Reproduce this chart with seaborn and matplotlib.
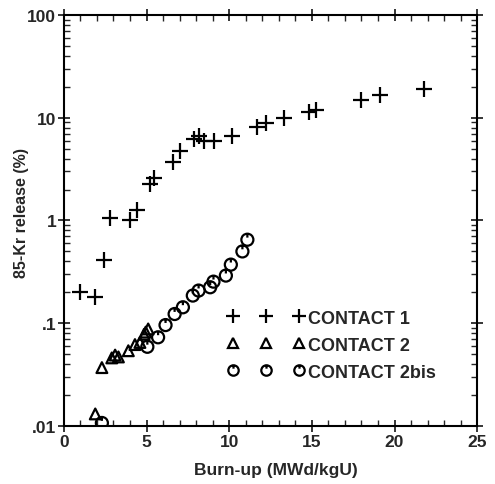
import numpy as np
import pandas as pd
import matplotlib
matplotlib.use("Agg")
import matplotlib.pyplot as plt
from matplotlib.path import Path
from matplotlib.lines import Line2D
from matplotlib.ticker import FixedLocator, FixedFormatter, LogLocator, NullFormatter, MultipleLocator
import seaborn as sns

# ---- data ----
c1_burnup = [1.0, 1.9, 2.4, 2.8, 4.0, 4.4, 5.2, 5.45, 6.6, 7.0, 7.9, 8.2, 8.5, 9.1,
             10.2, 11.7, 12.2, 13.3, 14.8, 15.25, 18.0, 19.1, 21.8]
c1_release = [0.20, 0.18, 0.41, 1.06, 1.02, 1.27, 2.27, 2.6, 3.75, 4.8, 6.2, 6.6, 6.0, 5.9,
              6.7, 8.2, 8.9, 10.0, 11.3, 11.8, 15.0, 16.5, 19.0]

c2_burnup = [1.9, 2.3, 2.9, 3.1, 3.3, 3.9, 4.3, 4.6, 4.85, 4.95, 5.1]
c2_release = [0.0131, 0.037, 0.046, 0.049, 0.047, 0.054, 0.062, 0.065, 0.078, 0.082, 0.088]

c2b_burnup = [2.3, 5.05, 5.7, 6.15, 6.7, 7.2, 7.8, 8.15, 8.85, 9.05, 9.8, 10.1, 10.8, 11.1]
c2b_release = [0.0107, 0.059, 0.073, 0.096, 0.123, 0.143, 0.186, 0.208, 0.224, 0.254,
               0.291, 0.372, 0.50, 0.65]

series_names = ["CONTACT 1", "CONTACT 2", "CONTACT 2bis"]
y_ticks = [0.01, 0.1, 1, 10, 100]
y_ticklabels = [".01", ".1", "1", "10", "100"]
x_ticks = [0, 5, 10, 15, 20, 25]

# ---- style ----
sns.set_style("ticks")
plt.rcParams['font.family'] = ['Liberation Sans', 'DejaVu Sans']
plt.rcParams['font.weight'] = 'bold'

fig = plt.figure(figsize=(4.95, 4.85), dpi=100)
ax = fig.add_axes([0.129, 0.1196, 0.835, 0.8474])

# circle with a tick marker
circ = Path.unit_circle()
tick = Path([(0, 1), (0, 0.35)], [Path.MOVETO, Path.LINETO])
circ_tick = Path.make_compound_path(circ, tick)

df1 = pd.DataFrame({"x": c1_burnup, "y": c1_release})
df2 = pd.DataFrame({"x": c2_burnup, "y": c2_release})
df3 = pd.DataFrame({"x": c2b_burnup, "y": c2b_release})

sns.scatterplot(data=df1, x="x", y="y", ax=ax, marker="+", s=120, color="black",
                linewidth=1.6, legend=False, zorder=3)
sns.scatterplot(data=df2, x="x", y="y", ax=ax, marker="^", s=60, facecolors="none",
                edgecolor="black", linewidth=1.6, legend=False, zorder=3)
sns.scatterplot(data=df3, x="x", y="y", ax=ax, marker=circ_tick, s=75, facecolors="none",
                edgecolor="black", linewidth=1.6, legend=False, zorder=3)

ax.set_yscale("log")
ax.set_xlim(0, 25)
ax.set_ylim(0.01, 100)

ax.xaxis.set_major_locator(FixedLocator(x_ticks))
ax.xaxis.set_minor_locator(MultipleLocator(1))
ax.yaxis.set_major_locator(FixedLocator(y_ticks))
ax.yaxis.set_major_formatter(FixedFormatter(y_ticklabels))
ax.yaxis.set_minor_locator(LogLocator(base=10, subs=np.arange(2, 10)))
ax.yaxis.set_minor_formatter(NullFormatter())

ax.tick_params(which="major", direction="inout", length=9, width=1.3,
               top=True, right=True, labelsize=12.5, pad=1)
ax.tick_params(which="minor", direction="in", length=4, width=1.0,
               top=True, right=True)
for s in ax.spines.values():
    s.set_linewidth(1.5)
    s.set_color("black")

ax.set_xlabel("Burn-up (MWd/kgU)", fontsize=12.5, fontweight="bold")
ax.set_ylabel("85-Kr release (%)", fontsize=11.5, fontweight="bold")
ax.xaxis.set_label_coords(0.514, -0.088)
ax.yaxis.set_label_coords(-0.085, 0.52)

handles = [
    Line2D([], [], linestyle="none", marker="+", markersize=9.5, color="black", markeredgewidth=1.6),
    Line2D([], [], linestyle="none", marker="^", markersize=7, markerfacecolor="none",
           markeredgecolor="black", markeredgewidth=1.6),
    Line2D([], [], linestyle="none", marker=circ_tick, markersize=7.5, markerfacecolor="none",
           markeredgecolor="black", markeredgewidth=1.6),
]
leg = ax.legend(handles, series_names, numpoints=3, frameon=False, loc="upper left",
                bbox_to_anchor=(0.395, 0.283), borderpad=0, borderaxespad=0,
                handlelength=4.3, handletextpad=0.2, labelspacing=0.55,
                prop={"size": 13, "weight": "bold"})

fig.savefig("out.png", dpi=100)
